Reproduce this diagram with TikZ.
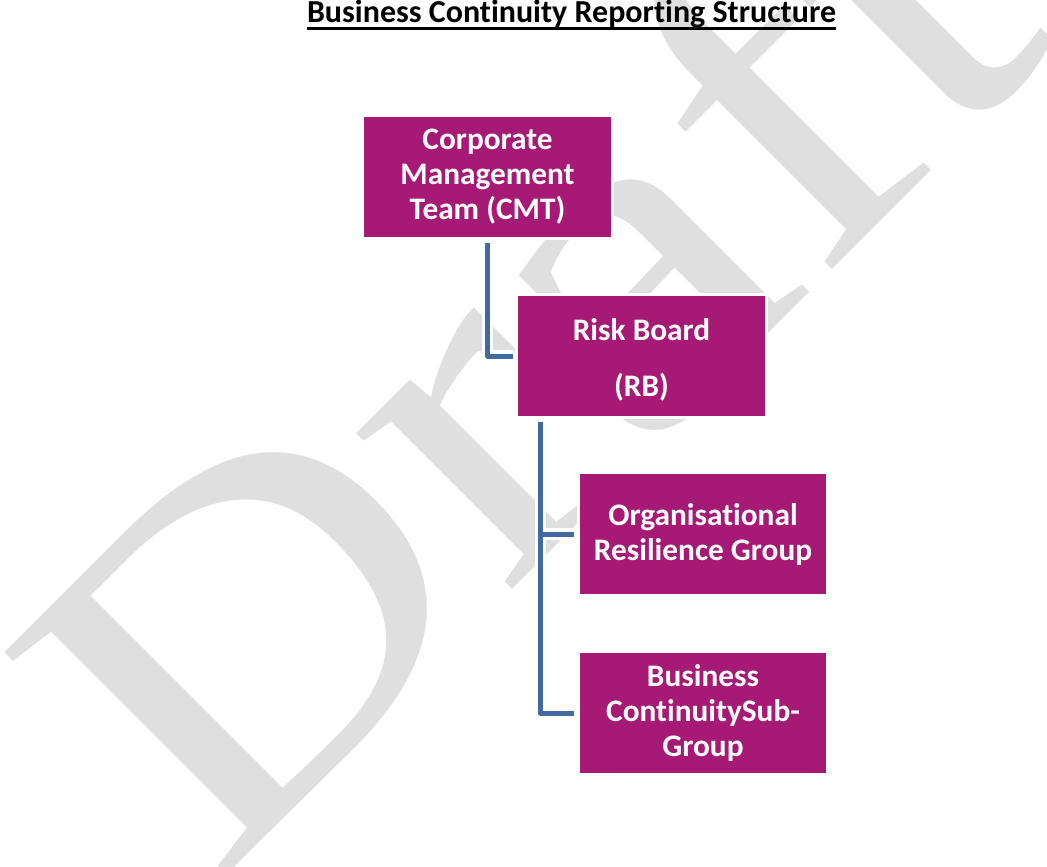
\documentclass[tikz,border=0pt]{standalone}
\usepackage{fontspec}
\setmainfont{Carlito}[Ligatures=NoCommon]
\newfontfamily\wmfont{Liberation Serif}
\definecolor{boxplum}{RGB}{166,25,116}
\definecolor{linkblue}{RGB}{65,106,160}
\definecolor{wmgray}{RGB}{223,223,223}
\begin{document}
\begin{tikzpicture}[x=0.75pt,y=-0.75pt,
  orgbox/.style={fill=boxplum, text=white,
    font=\bfseries\fontsize{23.5pt}{26.25pt}\selectfont,
    align=center, inner sep=0pt,
    minimum width=185.25pt, minimum height=90pt,
    preaction={draw=white, line width=4.5pt}},
  link/.style={draw=linkblue, line width=3.75pt, line join=round,
    preaction={draw=white, line width=8.5pt}}]
\useasboundingbox (0,0) rectangle (1047,867);

% watermark
\begin{scope}
  \clip (0,0) rectangle (1047,867);
  \node[text=wmgray, font=\wmfont\fontsize{360pt}{360pt}\selectfont,
        anchor=base west, rotate=45, inner sep=0pt] (wm) at (215,887)
        {\scalebox{1.18}[1]{Draft}};
\end{scope}

% heading
\node[font=\bfseries\fontsize{24pt}{28pt}\selectfont, anchor=base, inner sep=0pt]
  (title) at (571.5,23) {Business Continuity Reporting Structure};
\draw[line width=2.25pt] ([yshift=-4.1pt]title.base west) -- ([yshift=-4.1pt]title.base east);

% boxes
\node[orgbox] (cmt) at (487.5,177) {Corporate\\Management\\Team (CMT)};
\node[orgbox] (rb) at (641.5,356) {\rule{0pt}{22pt}Risk Board\\[15.5pt](RB)};
\node[orgbox, minimum width=184.5pt] (org) at (703,534) {Organisational\\Resilience Group};
\node[orgbox, minimum width=184.5pt] (bcs) at (703,713) {Business\\ContinuitySub-\\Group};

% connectors
\coordinate (cmtfoot) at ([yshift=-4.5pt]cmt.south);
\coordinate (rbin) at ([xshift=-3.75pt]rb.west);
\draw[link] (cmtfoot) |- (rbin);

\coordinate (rbfoot) at ([xshift=16.875pt,yshift=-4.5pt]rb.south west);
\coordinate (orgin) at ([xshift=-4.5pt]org.west);
\coordinate (bcsin) at ([xshift=-4.5pt]bcs.west);
\draw[link] (rbfoot) |- (bcsin) (rbfoot |- orgin) -- (orgin);
\end{tikzpicture}
\end{document}
